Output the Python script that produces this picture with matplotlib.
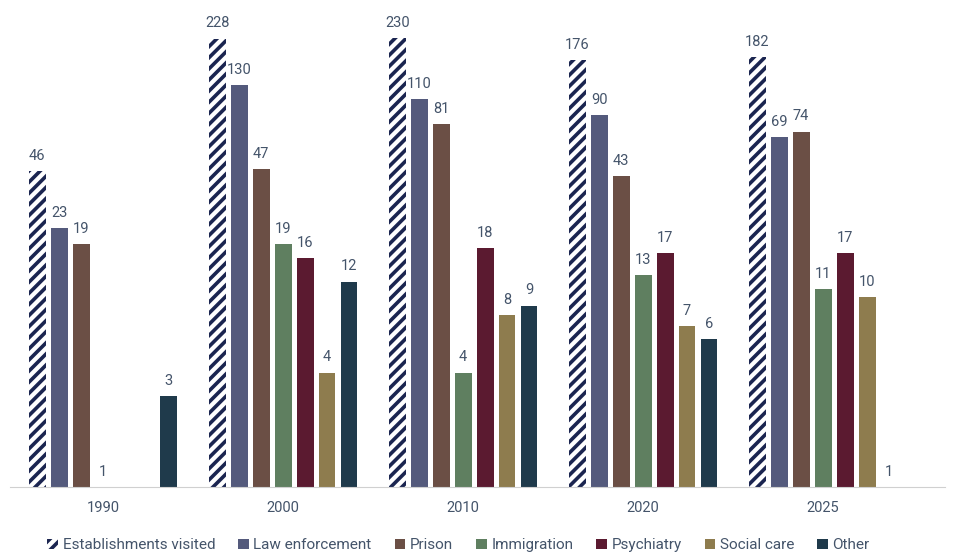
import numpy as np
from matplotlib import pyplot as plt

plt.rcParams['font.family'] = ['Roboto', 'DejaVu Sans']
plt.rcParams['hatch.linewidth'] = 2.6

# 数据
years = ['1990', '2000', '2010', '2020', '2025']
series = ['Establishments visited', 'Law enforcement', 'Prison', 'Immigration',
          'Psychiatry', 'Social care', 'Other']
establishments = [46, 228, 230, 176, 182]
law_enforcement = [23, 130, 110, 90, 69]
prison = [19, 47, 81, 43, 74]
immigration = [1, 19, 4, 13, 11]
psychiatry = [np.nan, 16, 18, 17, 17]
social_care = [np.nan, 4, 8, 7, 10]
other = [3, 12, 9, 6, 1]
values = [establishments, law_enforcement, prison, immigration, psychiatry, social_care, other]

colors = ['white', '#545a7c', '#6b4f45', '#5f7f60', '#5b1a30', '#8e7c4e', '#1f3a4b']
txt = '#44546a'

fig = plt.figure(figsize=(9.55, 5.56), dpi=100)
ax = fig.add_axes([10 / 955, 69 / 556, 935 / 955, 471 / 556])

x = np.arange(len(years))
pitch = 0.122
width = 0.094
for i, (name, vals) in enumerate(zip(series, values)):
    pos = x + (i - 3) * pitch
    v = np.array(vals, dtype=float)
    if i == 0:
        ax.bar(pos, v - 1, bottom=1, width=width, color='white', edgecolor='#1b2550',
               hatch='///', linewidth=0, label=name)
    else:
        ax.bar(pos, v - 1, bottom=1, width=width, color=colors[i], linewidth=0, label=name)
    for xp, val in zip(pos, v):
        if np.isnan(val):
            continue
        ax.annotate(f'{int(val)}', (xp, val), xytext=(0, 6), textcoords='offset points',
                    ha='center', va='bottom', fontsize=10.5, color=txt)

ax.set_yscale('log')
ax.set_ylim(1, 300)
ax.set_xlim(-0.517, 4.677)
ax.set_xticks(x)
ax.set_xticklabels(years, fontsize=10.5, color=txt)
ax.tick_params(axis='x', length=0, pad=10)
ax.set_yticks([])
ax.yaxis.set_minor_locator(plt.NullLocator())
for s in ['top', 'right', 'left']:
    ax.spines[s].set_visible(False)
ax.spines['bottom'].set_color('#d0d0d0')

fig.legend(loc='lower center', bbox_to_anchor=(0.48, -0.018), ncol=7, frameon=False,
           fontsize=11, labelcolor=txt, handlelength=0.7, handleheight=0.7,
           handletextpad=0.3, columnspacing=1.5)

plt.savefig('out.png', dpi=100)
